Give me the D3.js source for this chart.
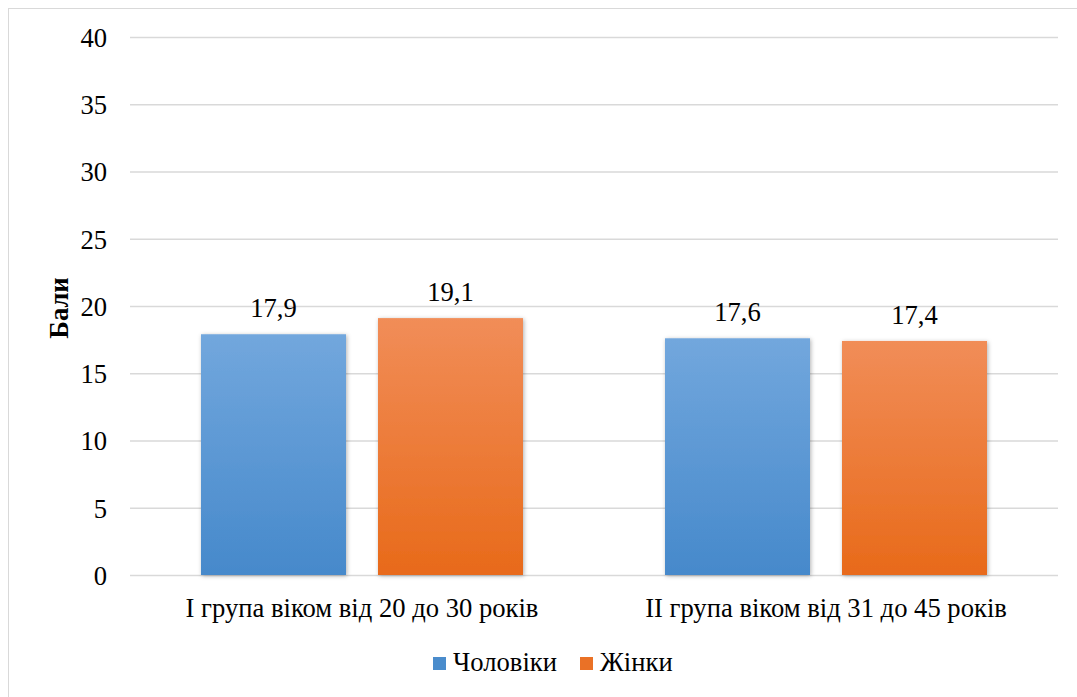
<!DOCTYPE html>
<html><head><meta charset="utf-8">
<script src="https://cdn.jsdelivr.net/npm/d3@7"></script>
<style>body{margin:0;background:#fff}svg{display:block}</style>
</head><body><svg id="c" width="1077" height="697"></svg>
<script>
const categories = ["І група віком від 20 до 30 років", "ІІ група віком від 31 до 45 років"];
const seriesNames = ["Чоловіки", "Жінки"];
const men = [17.9, 17.6];
const women = [19.1, 17.4];
const yTicks = [0, 5, 10, 15, 20, 25, 30, 35, 40];
const yTitle = "Бали";

(function () {
// pick an available serif font
const ctx = document.createElement("canvas").getContext("2d");
const sample = "ІІ група віком від 31 до 45 років abcxyz";
function w(f) { ctx.font = "40px " + f; return ctx.measureText(sample).width; }
const cands = ["Liberation Serif", "Tinos", "Times New Roman", "DejaVu Serif", "Noto Serif", "FreeSerif", "serif"];
let chosen = null;
for (const c of cands) {
  const q = c === "serif" ? "serif" : `'${c}'`;
  if (w(q + ", monospace") !== w("monospace") || c === "serif") { chosen = q; break; }
}
const FONT = chosen + ", serif";
// size so that category label is ~353px wide (as in reference)
ctx.font = "100px " + FONT;
const ratio = ctx.measureText(categories[0]).width / 100;
const FS = Math.max(18, Math.min(28, 353 / ratio));

const svg = d3.select("#c").attr("font-family", FONT);
const defs = svg.append("defs");
const grads = [["gb", "#72a7dd", "#4689cb"], ["go", "#f18d58", "#e86a1a"]];
grads.forEach(([id, a, b]) => {
  const g = defs.append("linearGradient").attr("id", id).attr("x1", 0).attr("y1", 0).attr("x2", 0).attr("y2", 1);
  g.append("stop").attr("offset", "0%").attr("stop-color", a);
  g.append("stop").attr("offset", "100%").attr("stop-color", b);
});
const f = defs.append("filter").attr("id", "sh").attr("x", "-10%").attr("y", "-10%").attr("width", "120%").attr("height", "120%");
f.append("feDropShadow").attr("dx", 1).attr("dy", 1).attr("stdDeviation", 2).attr("flood-color", "#000").attr("flood-opacity", 0.3);

svg.append("rect").attr("x", 8.5).attr("y", 8.5).attr("width", 1100).attr("height", 720)
  .attr("fill", "none").attr("stroke", "#d9d9d9").attr("stroke-width", 1);

const mLeft = 130, mRight = 1058, mTop = 37, mBottom = 575;
const y = d3.scaleLinear().domain([0, 40]).range([mBottom, mTop]);
const x0 = d3.scaleBand().domain(categories).range([mLeft, mRight]).paddingInner(0).paddingOuter(0);
const x1 = d3.scaleBand().domain(seriesNames).range([71, 393]).paddingInner(32 / 177).paddingOuter(0);

svg.append("g").selectAll("line").data(yTicks).join("line")
  .attr("x1", mLeft).attr("x2", mRight).attr("y1", d => y(d) + 0.5).attr("y2", d => y(d) + 0.5)
  .attr("stroke", "#d9d9d9").attr("stroke-width", 1.5);

const yAxis = d3.axisLeft(y).tickValues(yTicks).tickSize(0).tickPadding(0).tickFormat(d => d);
const ya = svg.append("g").attr("transform", `translate(107,0)`).call(yAxis)
  .attr("font-family", FONT).attr("font-size", FS);
ya.select(".domain").remove();
ya.selectAll("text").attr("fill", "#000").attr("dy", "0.35em");

const data = categories.map((c, i) => ({ c, vals: [{ s: seriesNames[0], v: men[i], g: "gb" }, { s: seriesNames[1], v: women[i], g: "go" }] }));
const grp = svg.append("g").selectAll("g").data(data).join("g").attr("transform", d => `translate(${x0(d.c)},0)`);
grp.selectAll("rect").data(d => d.vals).join("rect")
  .attr("x", d => x1(d.s)).attr("width", x1.bandwidth())
  .attr("y", d => y(d.v)).attr("height", d => y(0) - y(d.v))
  .attr("fill", d => `url(#${d.g})`).attr("filter", "url(#sh)");
grp.selectAll("text").data(d => d.vals).join("text")
  .attr("x", d => x1(d.s) + x1.bandwidth() / 2).attr("y", d => y(d.v) - 17)
  .attr("text-anchor", "middle").attr("font-size", FS)
  .text(d => d.v.toFixed(1).replace(".", ","));

svg.append("g").selectAll("text").data(categories).join("text")
  .attr("x", d => x0(d) + x0.bandwidth() / 2).attr("y", 617)
  .attr("text-anchor", "middle").attr("font-size", FS).text(d => d);

svg.append("text").attr("transform", "translate(68,308) rotate(-90)")
  .attr("text-anchor", "middle").attr("font-size", FS).attr("font-weight", "bold").text(yTitle);

const legX = [433, 580];
const lg = svg.append("g").selectAll("g").data(seriesNames).join("g")
  .attr("transform", (d, i) => `translate(${legX[i]},657)`);
lg.append("rect").attr("width", 13).attr("height", 13).attr("fill", (d, i) => i ? "#ea7126" : "#4a8ccc");
lg.append("text").attr("x", 20).attr("y", 14).attr("font-size", FS).text(d => d);
})();
</script></body></html>
